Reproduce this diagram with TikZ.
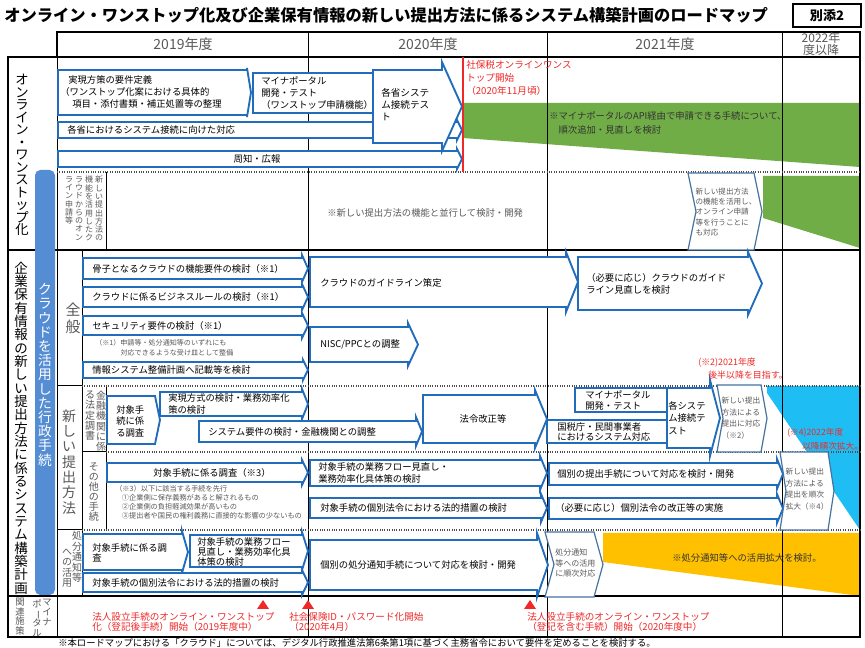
\documentclass[tikz,border=0pt]{standalone}
\usepackage{fontspec}
\setmainfont{Noto Sans CJK JP}
\usetikzlibrary{calc}
\definecolor{arrblue}{RGB}{34,108,188}
\definecolor{ntcblue}{RGB}{70,115,160}
\definecolor{barblue}{RGB}{84,141,212}
\definecolor{grncol}{RGB}{112,173,71}
\definecolor{cyncol}{RGB}{30,190,245}
\definecolor{orgcol}{RGB}{255,192,0}
\definecolor{redcol}{RGB}{240,40,40}
\definecolor{txtgray}{RGB}{89,89,89}
\lineskiplimit=-100pt
% block arrow: x0, y0, x1, y1, tip, ear
\newcommand{\blkarrow}[6]{%
  \draw[arrowbox] (#1,#2) -- ({#3-#5},#2) -- ({#3-#5},{#2-#6}) -- (#3,{(#2+#4)/2})
    -- ({#3-#5},{#4+#6}) -- ({#3-#5},#4) -- (#1,#4) -- cycle;}
% notched arrow: x0, y0, x1, y1, depth
\newcommand{\ntcarrow}[5]{%
  \draw[ntcbox] (#1,#2) -- ({#3-#5},#2) -- (#3,{(#2+#4)/2}) -- ({#3-#5},#4)
    -- (#1,#4) -- ({#1+#5},{(#2+#4)/2}) -- cycle;}

\begin{document}
\begin{tikzpicture}[x=0.75pt, y=-0.75pt,
    arrowbox/.style={draw=arrblue, line width=1.4pt, fill=white, line join=miter},
    ntcbox/.style={draw=ntcblue, line width=0.9pt, fill=white},
    atxt/.style={font=\fontsize{7}{8.8}\selectfont, inner sep=0pt, align=left, anchor=west},
    gtxt/.style={atxt, text=txtgray},
    ctxt/.style={font=\fontsize{5.7}{8.3}\selectfont, inner sep=0pt, align=left, text=txtgray},
    rtxt/.style={font=\fontsize{7.2}{8}\selectfont, inner sep=0pt, align=left, anchor=west, text=redcol},
    vlab/.style={inner sep=0pt, align=center, text=txtgray},
    yrtxt/.style={font=\fontsize{10.5}{12}\selectfont, text=txtgray, inner sep=0pt},
    gridthick/.style={line width=1.8pt},
    gridthin/.style={line width=0.75pt},
    griddot/.style={line width=0.8pt, densely dotted, black!70},
]
\fill[white] (0,0) rectangle (865,648);
\useasboundingbox (0,0) rectangle (865,648);

% title
\node[anchor=west, inner sep=0pt, font=\fontsize{12.2}{14}\selectfont\bfseries] (title) at (4,15)
    {オンライン・ワンストップ化及び企業保有情報の新しい提出方法に係るシステム構築計画のロードマップ};
\node[draw, line width=1.1pt, minimum width=51pt, minimum height=17.5pt, inner sep=0pt,
    font=\fontsize{9.8}{11}\selectfont\bfseries] (annex) at (827,15.5) {別添2};

% coloured areas
\fill[grncol] (463,103) -- (860,103) -- (860,167) -- (463,138) -- cycle;
\node[atxt, font=\fontsize{7}{10.5}\selectfont, text=black!80] (apinote) at (549,123)
    {※マイナポータルのAPI経由で申請できる手続について、\\　順次追加・見直しを検討};
\fill[grncol] (763,176) -- (860,176) -- (860,248) -- (763,218) -- cycle;
\fill[cyncol] (767,386) -- (860,386) -- (860,530) -- (767,393) -- cycle;
\fill[orgcol] (603,533) -- (860,533) -- (860,596) -- (603,562) -- cycle;
\node[atxt, text=black!80] (orgnote) at (672,558) {※処分通知等への活用拡大を検討。};

% grid
\draw[gridthick] (57,32) rectangle (860,57);
\draw[gridthick] (8,57) rectangle (860,637);
\foreach \xc in {308,547,782}
    \draw[gridthin] (\xc,32) -- (\xc,637);
\draw[gridthin] (57,57) -- (57,637);
\foreach \yc in {250,596}
    \draw[gridthick] (8,\yc) -- (860,\yc);
\draw[gridthin] (82,250) -- (82,596);
\draw[gridthin] (57,386) -- (82,386) (57,530) -- (82,530);
\draw[gridthin] (106,386) -- (106,530) (82,452) -- (106,452);
\draw[gridthin] (106,172) -- (106,250);
\foreach \yc/\xs in {172/57, 386/82, 452/106, 530/82}
    \draw[griddot] (\xs,\yc) -- (860,\yc);

% years
\node[yrtxt] (y19) at (183,44) {2019年度};
\node[yrtxt] (y20) at (428,44) {2020年度};
\node[yrtxt] (y21) at (665,44) {2021年度};
\node[yrtxt, align=center, font=\fontsize{9}{8.5}\selectfont] (y22) at (821,44) {2022年\\度以降};

% left labels
\node[vlab, text=black, font=\fontsize{10}{9.4}\selectfont] (sec1) at (22,155)
    {オ\\ン\\ラ\\イ\\ン\\・\\ワ\\ン\\ス\\ト\\ッ\\プ\\化};
\node[vlab, text=black, font=\fontsize{10.1}{10}\selectfont] (sec2) at (21,428)
    {企\\業\\保\\有\\情\\報\\の\\新\\し\\い\\提\\出\\方\\法\\に\\係\\る\\シ\\ス\\テ\\ム\\構\\築\\計\\画};
\fill[barblue, rounded corners=4pt] (35,170) rectangle (55,595);
\node[vlab, text=white, font=\fontsize{10.3}{10.65}\selectfont] (bartxt) at (45,375)
    {ク\\ラ\\ウ\\ド\\を\\活\\用\\し\\た\\行\\政\\手\\続};
\node[vlab, anchor=north, font=\fontsize{7}{7.1}\selectfont] (rel) at (20,598) {関\\連\\施\\策};
\node[vlab, anchor=north, font=\fontsize{7}{7.3}\selectfont] (mpa) at (47,599) {マ\\イ\\ナ};
\node[vlab, anchor=north, font=\fontsize{7}{7.3}\selectfont] (mpb) at (37,599)
    {ポ\\\rotatebox[origin=c]{-90}{ー}\\タ\\ル};
\node[vlab, anchor=north, font=\fontsize{6}{6.2}\selectfont] (cla) at (99,176) {新\\し\\い\\提\\出\\方\\法\\の};
\node[vlab, anchor=north, font=\fontsize{6}{6.2}\selectfont] (clb) at (89,176) {機\\能\\を\\活\\用\\し\\た\\ク};
\node[vlab, anchor=north, font=\fontsize{6}{6.2}\selectfont] (clc) at (79,176) {ラ\\ウ\\ド\\か\\ら\\の\\オ\\ン};
\node[vlab, anchor=north, font=\fontsize{6}{6.2}\selectfont] (cld) at (69,176) {ラ\\イ\\ン\\申\\請\\等};
\node[vlab, font=\fontsize{11.2}{12.75}\selectfont] (gen) at (73,318) {全\\般};
\node[vlab, font=\fontsize{10.5}{11.5}\selectfont] (newm) at (69,462) {新\\し\\い\\提\\出\\方\\法};
\node[vlab, anchor=north, font=\fontsize{7.5}{7.6}\selectfont] (fina) at (101,391) {金\\融\\機\\関\\に\\係};
\node[vlab, anchor=north, font=\fontsize{7.5}{7.6}\selectfont] (finb) at (90,391) {る\\法\\定\\調\\書};
\node[vlab, font=\fontsize{7.5}{7.5}\selectfont] (oth) at (94,492) {そ\\の\\他\\の\\手\\続};
\node[vlab, font=\fontsize{7.5}{7.9}\selectfont] (dspa) at (77,557) {処\\分\\通\\知\\等};
\node[vlab, font=\fontsize{7.5}{7.9}\selectfont] (dspb) at (67,568) {へ\\の\\活\\用};

% online one-stop
\blkarrow{58}{70}{251}{115}{4}{2}
\node[atxt] (reqdef) at (60,92)
    {\hspace{6pt}実現方策の要件定義\\（ワンストップ化案における具体的\\\hspace{9pt}項目・添付書類・補正処置等の整理};
\draw[arrowbox] (253,73) rectangle (380,113);
\node[atxt] (mpdev) at (261,93) {マイナポータル\\開発・テスト\\（ワンストップ申請機能）};
\blkarrow{58}{122}{462}{138}{5}{2}
\node[atxt] (sysconn) at (67,130) {各省におけるシステム接続に向けた対応};
\blkarrow{58}{151}{462}{167}{5}{2}
\node[atxt, anchor=center] (pr) at (257,159) {周知・広報};
\blkarrow{373}{70}{462}{143}{20}{8}
\node[atxt, font=\fontsize{7.2}{9}\selectfont] (systest) at (381,105) {各省システ\\ム接続テス\\ト};
\draw[redcol, line width=0.8pt] (463,57) -- (463,172);
\node[rtxt, font=\fontsize{7.2}{9.75}\selectfont] (shahozei) at (466,78)
    {社保税オンラインワンス\\トップ開始\\（2020年11月頃）};
\node[gtxt] (parnote) at (327,213) {※新しい提出方法の機能と並行して検討・開発};
\ntcarrow{688}{173}{762}{250}{8}
\node[ctxt, font=\fontsize{5.7}{7.7}\selectfont] (olnew) at (726,212)
    {新しい提出方法\\の機能を活用し、\\オンライン申請\\等を行うことに\\も対応};

% general
\blkarrow{83}{258}{308}{279}{6}{3}
\node[atxt] (skel) at (92,268.5) {骨子となるクラウドの機能要件の検討（※1）};
\blkarrow{83}{287}{308}{307}{6}{3}
\node[atxt] (bizrule) at (92,297) {クラウドに係るビジネスルールの検討（※1）};
\blkarrow{83}{316}{308}{335}{6}{3}
\node[atxt] (secu) at (92,326) {セキュリティ要件の検討（※1）};
\node[gtxt, font=\fontsize{5.3}{7.5}\selectfont] (note1) at (95,348)
    {（※1）申請等・処分通知等のいずれにも\\\hspace{19pt}対応できるような受け皿として整備};
\blkarrow{83}{362}{308}{378}{5}{2}
\node[atxt] (plan) at (92,370) {情報システム整備計画へ記載等を検討};
\blkarrow{310}{327}{418}{362}{10}{4}
\node[atxt] (nisc) at (320,344) {NISC/PPCとの調整};
\blkarrow{310}{257}{578}{307}{12}{5}
\node[atxt] (guide) at (320,283) {クラウドのガイドライン策定};
\blkarrow{578}{257}{762}{310}{14}{5}
\node[atxt, font=\fontsize{7}{9.5}\selectfont] (guiderev) at (586,284)
    {（必要に応じ）クラウドのガイド\\ライン見直しを検討};

% financial institutions
\blkarrow{107}{396}{160}{444}{5}{0}
\node[atxt, font=\fontsize{7}{8.6}\selectfont] (fsurvey) at (116,421) {対象手\\続に係\\る調査};
\blkarrow{160}{392}{308}{416}{6}{3}
\node[atxt, font=\fontsize{7}{8.4}\selectfont] (method) at (168,404) {実現方式の検討・業務効率化\\策の検討};
\blkarrow{199}{421}{422}{442}{6}{4}
\node[atxt] (sysreq) at (208,432) {システム要件の検討・金融機関との調整};
\blkarrow{423}{395}{547}{443}{12}{5}
\node[atxt, anchor=center] (law) at (483,419) {法令改正等};
\draw[arrowbox] (547,420) rectangle (667,443);
\node[atxt, font=\fontsize{7}{7.9}\selectfont] (nta) at (557,432) {国税庁・民間事業者\\におけるシステム対応};
\draw[arrowbox] (575,388) rectangle (667,412);
\node[atxt, font=\fontsize{7}{8.2}\selectfont] (mpdev2) at (585,400) {マイナポータル\\開発・テスト};
\blkarrow{667}{388}{720}{448}{10}{8}
\node[atxt, font=\fontsize{7}{9.3}\selectfont] (systest2) at (668,418) {各システ\\ム接続テ\\スト};
\ntcarrow{717}{385}{767}{452}{6}
\node[ctxt, font=\fontsize{5.8}{8.6}\selectfont] (fnew) at (741,418) {新しい提出\\方法による\\提出に対応\\（※2）};
\node[rtxt, font=\fontsize{6.7}{8}\selectfont] (note2a) at (698,363) {(※2)2021年度};
\node[rtxt, font=\fontsize{6.7}{8}\selectfont] (note2b) at (708,375) {後半以降を目指す。};
\node[rtxt, font=\fontsize{6.5}{8}\selectfont] (note4a) at (787,433) {(※4)2022年度};
\node[rtxt, font=\fontsize{6.5}{8}\selectfont] (note4b) at (802,446) {以降順次拡大。};

% other procedures
\blkarrow{107}{463}{308}{482}{6}{3}
\node[atxt, anchor=center] (osurvey) at (212,473) {対象手続に係る調査（※3）};
\node[gtxt, font=\fontsize{5.4}{6.8}\selectfont] (note3) at (115,502)
    {（※3）以下に該当する手続を先行\\\hspace{5pt}①企業側に保存義務があると解されるもの\\\hspace{5pt}②企業側の負担軽減効果が高いもの\\\hspace{5pt}③提出者や国民の権利義務に直接的な影響の少ないもの};
\blkarrow{310}{460}{547}{486}{7}{4}
\node[atxt, font=\fontsize{7}{8.6}\selectfont] (flow) at (318,473) {対象手続の業務フロー見直し・\\業務効率化具体策の検討};
\blkarrow{310}{498}{547}{518}{6}{4}
\node[atxt] (lawmeas) at (320,508) {対象手続の個別法令における法的措置の検討};
\blkarrow{549}{463}{783}{485}{6}{4}
\node[atxt] (indiv) at (557,474) {個別の提出手続について対応を検討・開発};
\blkarrow{549}{498}{783}{519}{6}{4}
\node[atxt] (lawrev) at (555,508) {（必要に応じ）個別法令の改正等の実施};
\ntcarrow{780}{452}{834}{530}{6}
\node[ctxt, font=\fontsize{5.8}{8.8}\selectfont] (onew) at (807,489) {新しい提出\\方法による\\提出を順次\\拡大（※4）};

% notices of disposition
\blkarrow{83}{534}{188}{570}{6}{3}
\node[atxt, font=\fontsize{7}{7.5}\selectfont] (dsurvey) at (92,553) {対象手続に係る調\\査};
\blkarrow{190}{535}{308}{567}{6}{3}
\node[atxt, font=\fontsize{7}{7.5}\selectfont] (dflow) at (197,552) {対象手続の業務フロー\\見直し・業務効率化具\\体策の検討};
\blkarrow{83}{573}{308}{592}{6}{3}
\node[atxt] (dlaw) at (92,583) {対象手続の個別法令における法的措置の検討};
\blkarrow{310}{540}{548}{590}{11}{7}
\node[atxt] (dindiv) at (320,565) {個別の処分通知手続について対応を検討・開発};
\ntcarrow{545}{532}{603}{597}{9}
\node[ctxt, anchor=west, font=\fontsize{6}{8.2}\selectfont] (dnew) at (555,563) {処分通知\\等への活用\\に順次対応};

% related measures
\foreach \xc in {263,308,530}
    \fill[redcol] (\xc,600) -- (\xc+6,609) -- (\xc-6,609) -- cycle;
\node[rtxt, font=\fontsize{7.2}{7.9}\selectfont] (corp19) at (92,622)
    {法人設立手続のオンライン・ワンストップ\\化（登記後手続）開始（2019年度中）};
\node[rtxt, font=\fontsize{7.2}{7.9}\selectfont] (sspw) at (289,622)
    {社会保険ID・パスワード化開始\\（2020年4月）};
\node[rtxt, font=\fontsize{7.2}{7.9}\selectfont] (corp20) at (527,622)
    {法人設立手続のオンライン・ワンストップ\\（登記を含む手続）開始（2020年度中）};

\node[atxt, font=\fontsize{7}{8}\selectfont] (foot) at (58,643)
    {※本ロードマップにおける「クラウド」については、デジタル行政推進法第6条第1項に基づく主務省令において要件を定めることを検討する。};
\end{tikzpicture}
\end{document}
